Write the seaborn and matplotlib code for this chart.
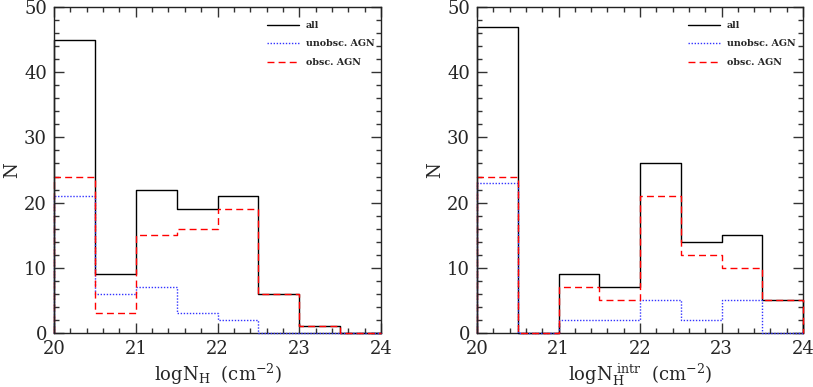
import numpy as np
import pandas as pd
import matplotlib
matplotlib.use("Agg")
import matplotlib.pyplot as plt
import seaborn as sns
from matplotlib.ticker import MultipleLocator

# Data
bin_edges = [20.0, 20.5, 21.0, 21.5, 22.0, 22.5, 23.0, 23.5, 24.0]
left_all = [45, 9, 22, 19, 21, 6, 1, 0]
left_unobsc = [21, 6, 7, 3, 2, 0, 0, 0]
left_obsc = [24, 3, 15, 16, 19, 6, 1, 0]
right_all = [47, 0, 9, 7, 26, 14, 15, 5]
right_unobsc = [23, 0, 2, 2, 5, 2, 5, 0]
right_obsc = [24, 0, 7, 5, 21, 12, 10, 5]
series_names = ["all", "unobsc. AGN", "obsc. AGN"]
xlabels = [r"$\mathrm{logN_H}\ \ \mathrm{(cm^{-2})}$",
           r"$\mathrm{logN_H^{\ intr}}\ \ \mathrm{(cm^{-2})}$"]

sns.set_style("ticks")
plt.rcParams["font.family"] = ["DejaVu Serif"]
plt.rcParams["mathtext.fontset"] = "dejavuserif"

fig = plt.figure(figsize=(8.13, 3.87), dpi=100)
W, H = 813, 387
axL = fig.add_axes([54 / W, 1 - 333 / H, 327 / W, 326 / H])
axR = fig.add_axes([477 / W, 1 - 333 / H, 326 / W, 326 / H])

styles = [
    dict(color="black", linestyle="-", linewidth=1.0),
    dict(color="#3333ff", linestyle=(0, (1, 1.2)), linewidth=1.0),
    dict(color="red", linestyle=(0, (5, 3)), linewidth=1.0),
]


def step_frame(counts):
    xs = [bin_edges[0]] + list(bin_edges)
    ys = [0] + list(counts) + [0]
    return pd.DataFrame({"x": xs, "y": ys})


for ax, sets, xl, lx in [
    (axL, [left_all, left_unobsc, left_obsc], xlabels[0], 0.651),
    (axR, [right_all, right_unobsc, right_obsc], xlabels[1], 0.647),
]:
    for i, (counts, name, st) in enumerate(zip(sets, series_names, styles)):
        df = step_frame(counts)
        sns.lineplot(data=df, x="x", y="y", ax=ax, sort=False, estimator=None,
                     drawstyle="steps-post", label=name, clip_on=False,
                     zorder=3 + i, **st)
    ax.set_xlim(20, 24)
    ax.set_ylim(0, 50)
    ax.xaxis.set_major_locator(MultipleLocator(1))
    ax.xaxis.set_minor_locator(MultipleLocator(0.2))
    ax.yaxis.set_major_locator(MultipleLocator(10))
    ax.yaxis.set_minor_locator(MultipleLocator(2))
    ax.tick_params(which="both", direction="in", top=True, right=True,
                   labelsize=13, width=1.0, color="#333333")
    ax.tick_params(which="major", length=7, pad=5)
    ax.tick_params(which="minor", length=3.5)
    for sp in ax.spines.values():
        sp.set_linewidth(1.0)
        sp.set_color("#222222")
    ax.spines["left"].set_zorder(10)
    ax.set_xlabel(xl, fontsize=13, labelpad=3)
    ax.set_ylabel("N", fontsize=13, labelpad=2)
    leg = ax.legend(loc="upper left", bbox_to_anchor=(lx, 0.957),
                    frameon=False, borderaxespad=0, borderpad=0,
                    handlelength=3.4, handletextpad=0.75, labelspacing=1.0,
                    prop={"family": "DejaVu Serif", "weight": "bold", "size": 6.8})

fig.savefig("out.png", dpi=100)
